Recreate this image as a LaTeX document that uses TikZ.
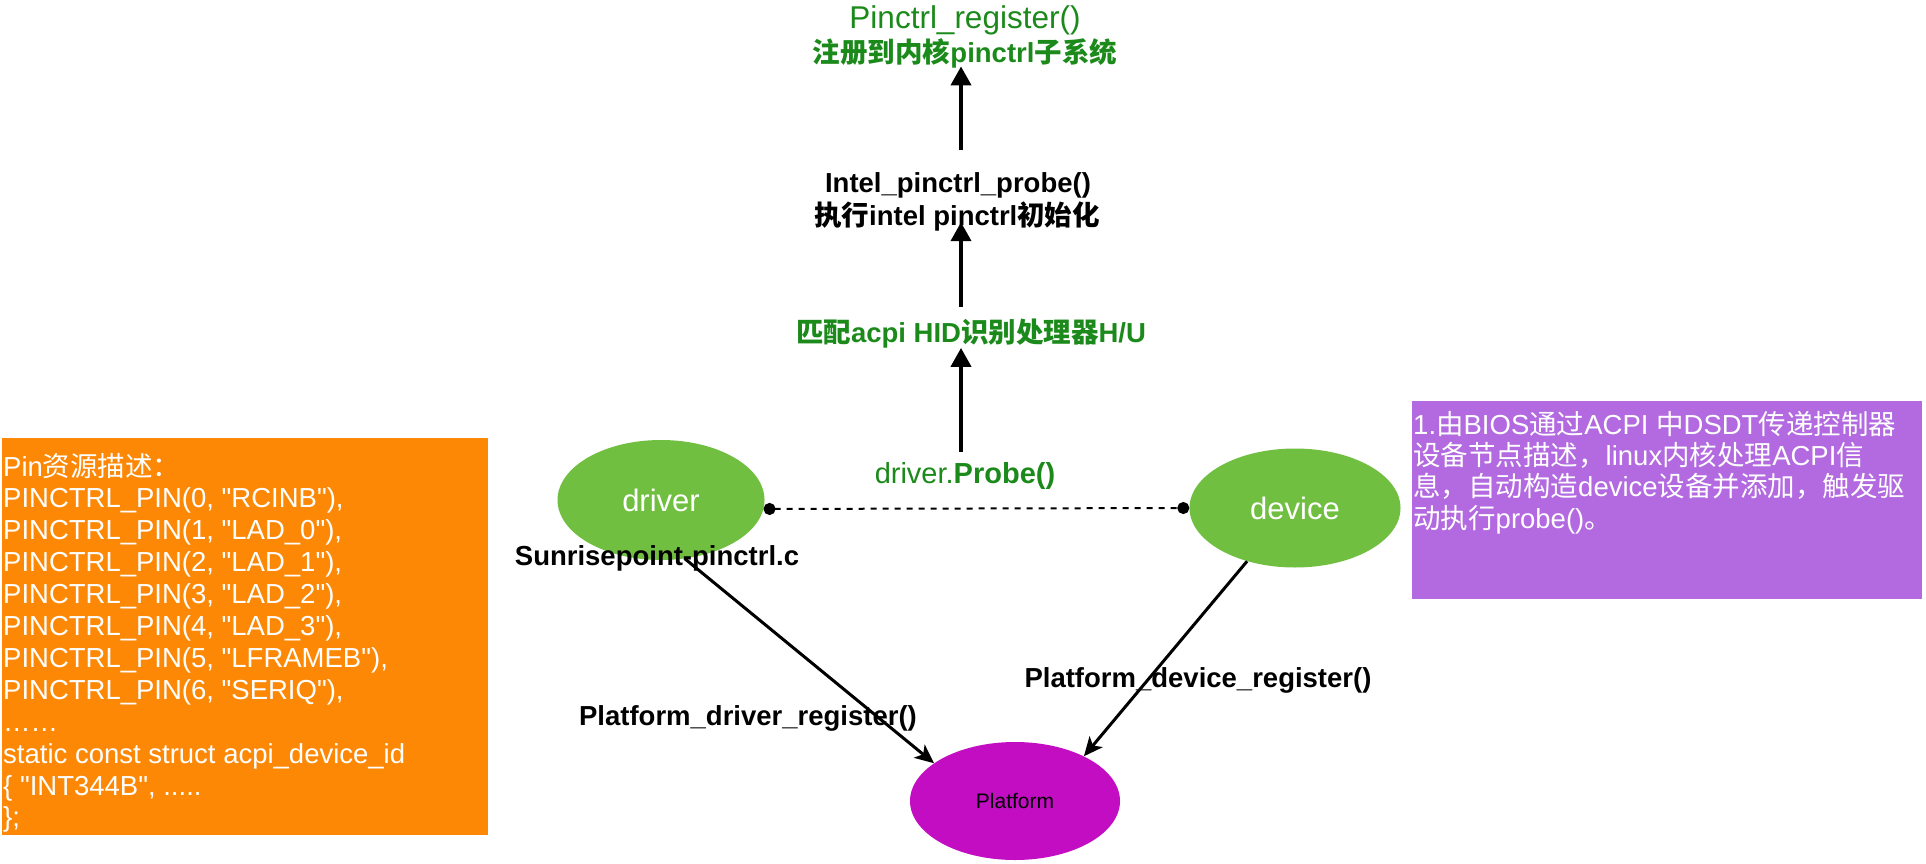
\documentclass[tikz,border=0pt]{standalone}
\usepackage{fontspec}
\setmainfont{Liberation Sans}
\newfontfamily\cjk{Noto Sans CJK SC}
\usetikzlibrary{shapes.geometric,arrows.meta}
\newcommand\zh[1]{{\cjk #1}}
\newcommand\fs[1]{\fontsize{#1}{#1}\selectfont}
\newcommand\qq{\textquotedbl}
\definecolor{lblgreen}{RGB}{27,138,27}
\definecolor{ovgreen}{RGB}{112,191,64}
\definecolor{ovpink}{RGB}{194,13,194}
\definecolor{boxorange}{RGB}{252,136,5}
\definecolor{boxpurple}{RGB}{179,106,224}
\tikzset{
  lbl/.style={inner sep=0pt, anchor=base},
  boldlbl/.style={lbl, font=\bfseries\fs{27.5}},
  greenlbl/.style={lbl, text=lblgreen},
  oval/.style={ellipse, inner sep=0pt, draw=none},
  varrow/.style={line width=4pt, -{Triangle[length=19pt,width=20pt]}},
  darrow/.style={line width=3pt, -{Stealth[length=19pt,width=17pt,inset=5pt]}},
  dotline/.style={line width=2pt, dash pattern=on 6pt off 6pt, {Circle[length=12pt]}-{Circle[length=12pt]}},
  codetxt/.style={inner sep=0pt, anchor=base west, text=white, font=\fs{27.5}},
  boxstyle/.style={inner sep=0pt, anchor=north west, draw=none}
}
\begin{document}
\begin{tikzpicture}[x=1pt,y=-1pt]
\useasboundingbox (0,0) rectangle (1926,864);
\coordinate (ax) at (961,0);

% left orange box
\node[boxstyle, fill=boxorange, minimum width=486pt, minimum height=397pt] (pinbox) at (2,438) {};
\node[codetxt] (pin1) at (3,476) {Pin\zh{资源描述：}};
\node[codetxt] (pin2) at (3,507.9) {PINCTRL\_PIN(0, \qq RCINB\qq),};
\node[codetxt] (pin3) at (3,539.8) {PINCTRL\_PIN(1, \qq LAD\_0\qq),};
\node[codetxt] (pin4) at (3,571.7) {PINCTRL\_PIN(2, \qq LAD\_1\qq),};
\node[codetxt] (pin5) at (3,603.6) {PINCTRL\_PIN(3, \qq LAD\_2\qq),};
\node[codetxt] (pin6) at (3,635.5) {PINCTRL\_PIN(4, \qq LAD\_3\qq),};
\node[codetxt] (pin7) at (3,667.4) {PINCTRL\_PIN(5, \qq LFRAMEB\qq),};
\node[codetxt] (pin8) at (3,699.3) {PINCTRL\_PIN(6, \qq SERIQ\qq),};
\node[codetxt] (pin9) at (3,731.2) {……};
\node[codetxt] (pin10) at (3,763.1) {static const struct acpi\_device\_id};
\node[codetxt] (pin11) at (3,795.0) {\{ \qq INT344B\qq, .....};
\node[codetxt] (pin12) at (3,826.9) {\};};

% right purple box
\node[boxstyle, fill=boxpurple, minimum width=510pt, minimum height=198pt] (acpibox) at (1412,401) {};
\node[codetxt] (acpi1) at (1413,434) {1.\zh{由}BIOS\zh{通过}ACPI \zh{中}DSDT\zh{传递控制器}};
\node[codetxt] (acpi2) at (1413,465.4) {\zh{设备节点描述，}linux\zh{内核处理}ACPI\zh{信}};
\node[codetxt] (acpi3) at (1413,496.8) {\zh{息，自动构造}device\zh{设备并添加，触发驱}};
\node[codetxt] (acpi4) at (1413,528.2) {\zh{动执行}probe()\zh{。}};

% top labels
\node[greenlbl, font=\fs{31.5}] (reg1) at (965,29) {Pinctrl\_register()};
\node[boldlbl, text=lblgreen] (reg2) at (965,63) {\zh{注册到内核}pinctrl\zh{子系统}};
\node[boldlbl] (intel1) at (958,192) {Intel\_pinctrl\_probe()};
\node[boldlbl] (intel2) at (957,225) {\zh{执行}intel pinctrl\zh{初始化}};
\node[boldlbl, text=lblgreen] (match) at (971,342) {\zh{匹配}acpi HID\zh{识别处理器}H/U};
\node[greenlbl, font=\fs{29}] (dprobe) at (965,483) {driver.\textbf{Probe()}};

% ellipses
\node[oval, fill=ovgreen, minimum width=207pt, minimum height=120pt, text=white, font=\fs{31}] (drv) at (661,500) {driver};
\node[oval, fill=ovgreen, minimum width=211pt, minimum height=119pt, text=white, font=\fs{31}] (dev) at (1295,508) {device};
\node[oval, fill=ovpink, minimum width=210pt, minimum height=118pt, text=black, font=\fs{21}] (plat) at (1015,801) {Platform};

% other labels
\node[boldlbl] (sun) at (657,565) {Sunrisepoint-pinctrl.c};
\node[boldlbl] (pdr) at (748,725) {Platform\_driver\_register()};
\node[boldlbl] (pde) at (1198,687) {Platform\_device\_register()};

% connectors
\draw[varrow, shorten <=21.7pt, shorten >=-2.5pt] (intel1.north -| ax) -- (reg2.south -| ax);
\draw[varrow, shorten <=11pt, shorten >=-8.7pt] (match.north -| ax) -- (intel2.south -| ax);
\draw[varrow, shorten <=10pt] (dprobe.north -| ax) -- (match.south -| ax);
\draw[dotline] (drv.355) -- (dev.180);
\draw[darrow] (drv.292) -- (plat.155);
\draw[darrow] (dev.228) -- (plat.33);
\end{tikzpicture}
\end{document}
